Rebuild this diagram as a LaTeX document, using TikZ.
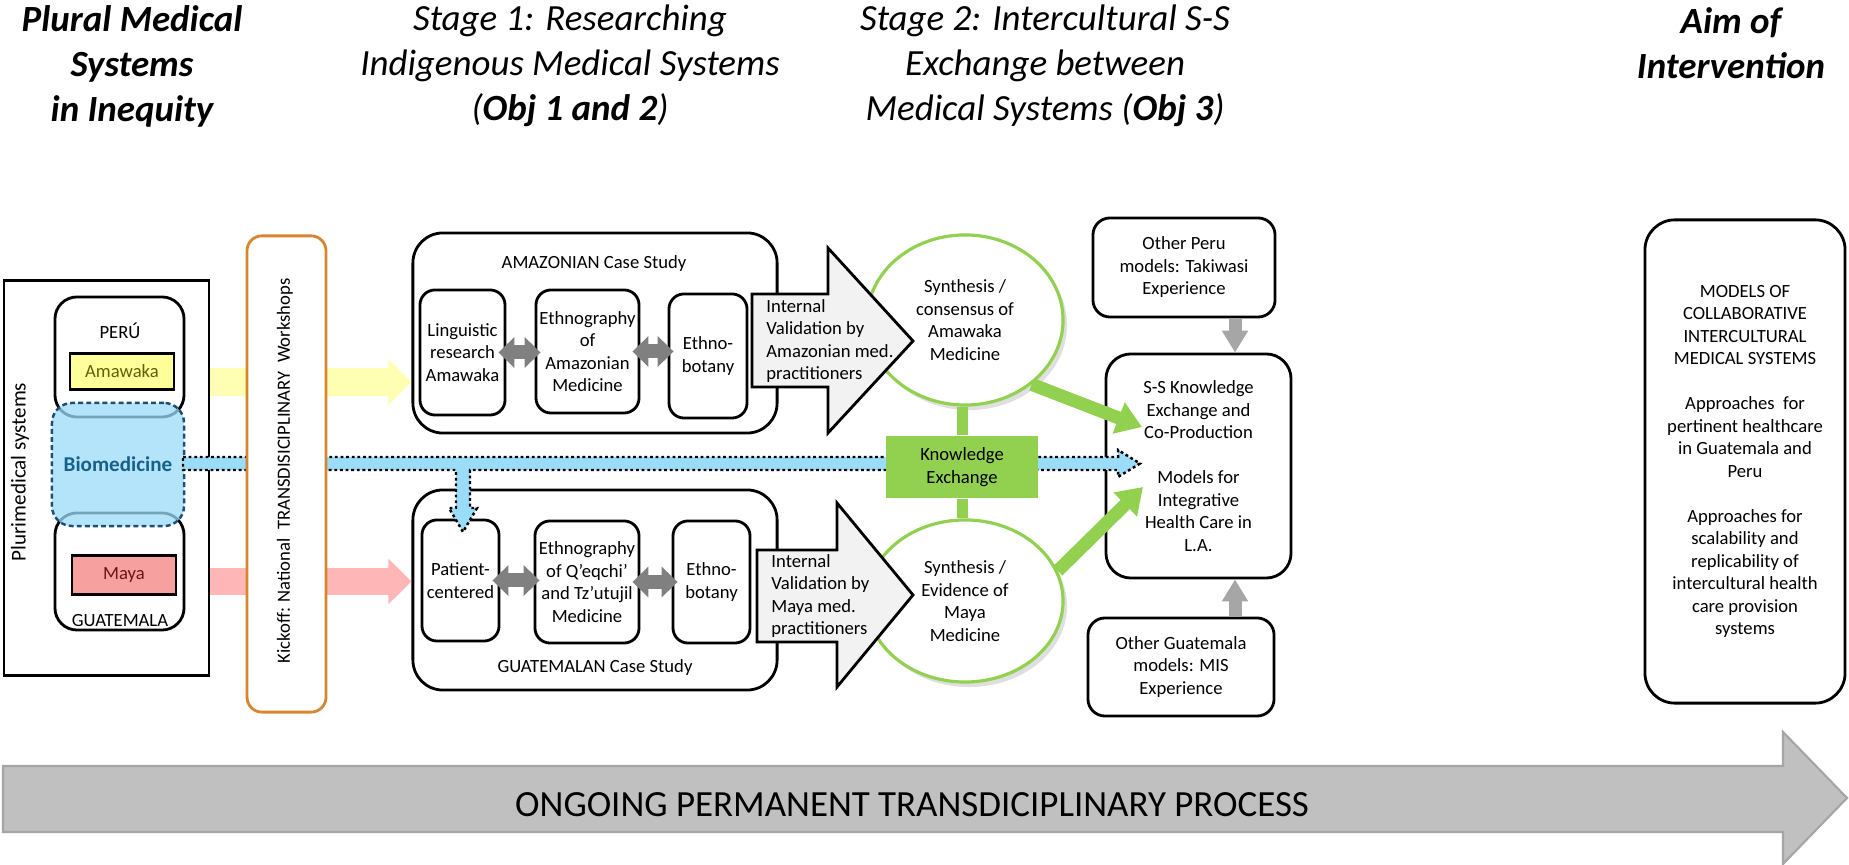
\documentclass[tikz,border=0pt]{standalone}
\usepackage{fontspec}
\setmainfont{Carlito}
\usetikzlibrary{positioning,arrows.meta,shapes.geometric,shadows}

\definecolor{bioblue}{RGB}{155,220,248}
\definecolor{biodark}{RGB}{31,78,121}
\definecolor{biotext}{RGB}{22,96,140}
\definecolor{amayellow}{RGB}{255,255,153}
\definecolor{amatext}{RGB}{96,96,10}
\definecolor{bandyellow}{RGB}{255,255,180}
\definecolor{mayapink}{RGB}{246,160,160}
\definecolor{mayatext}{RGB}{110,20,20}
\definecolor{bandpink}{RGB}{255,182,182}
\definecolor{kickorange}{RGB}{214,134,46}
\definecolor{exgreen}{RGB}{146,208,80}
\definecolor{valgray}{RGB}{242,242,242}
\definecolor{dblgray}{RGB}{128,128,128}
\definecolor{vgray}{RGB}{166,166,166}
\definecolor{procgray}{RGB}{192,192,192}
\definecolor{procedge}{RGB}{165,165,165}

\newcommand{\smalltxt}{\fontsize{5.3}{6.4}\selectfont}
\newcommand{\midtxt}{\fontsize{6}{7.2}\selectfont}
\newcommand{\hdrfont}{\fontsize{10.5}{12.8}\selectfont}

\begin{document}
\begin{tikzpicture}[x=0.01cm,y=-0.01cm,
  outline/.style={draw, line width=0.8pt},
  casebox/.style={outline, rounded corners=0.3cm, minimum width=3.64cm, minimum height=2cm},
  subbox/.style={outline, rounded corners=0.15cm, align=center, font=\smalltxt, inner sep=0pt},
  landbox/.style={outline, rounded corners=0.22cm, minimum width=1.29cm},
  medbox/.style={outline, minimum width=1.04cm, minimum height=0.31cm, font=\smalltxt},
  modelbox/.style={outline, rounded corners=0.17cm, align=center, font=\smalltxt},
  synth/.style={ellipse, draw=exgreen, line width=0.9pt, fill=white, align=center, font=\smalltxt, inner sep=0pt,
    drop shadow={opacity=0.25, shadow xshift=0.04cm, shadow yshift=-0.05cm}},
  hdrtxt/.style={font=\hdrfont\itshape, align=center},
  pairarrow/.style={dblgray, line width=0.14cm, {Triangle[width=0.3cm,length=0.16cm]}-{Triangle[width=0.3cm,length=0.16cm]},
    shorten <=-0.08cm, shorten >=-0.06cm},
  greenarrow/.style={exgreen, line width=0.13cm, -{Triangle[width=0.32cm,length=0.25cm]}},
  grayarrow/.style={vgray, line width=0.13cm, -{Triangle[width=0.25cm,length=0.22cm]}},
  band/.style={line width=0.27cm, -{Triangle[width=0.44cm,length=0.23cm]}},
  valarrow/.style={draw, line width=0.8pt, fill=valgray}]
	\useasboundingbox (0,0) rectangle (1849,865);
	% process arrow
	\draw[fill=procgray, draw=procedge, line width=0.6pt] (3,766) -- (1783,766) -- (1783,732) -- (1847,798) -- (1783,864) -- (1783,832) -- (3,832) -- cycle;
	\node[font=\hdrfont] (proclab) at (912,805) {ONGOING PERMANENT TRANSDICIPLINARY PROCESS};
	% headers
	\node[hdrtxt, font=\hdrfont\bfseries\itshape] (hplural) at (132,66) {Plural Medical\\Systems\\in Inequity};
	\node[hdrtxt] (hstage1) at (570,66) {Stage 1: Researching\\Indigenous Medical Systems\\(\textbf{Obj 1 and 2})};
	\node[hdrtxt] (hstage2) at (1045,66) {Stage 2: Intercultural S-S\\Exchange between\\Medical Systems (\textbf{Obj 3})};
	\node[hdrtxt, font=\hdrfont\bfseries\itshape] (haim) at (1731,43) {Aim of\\Intervention};
	% plurimedical systems
	\node[outline, fill=white, minimum width=2.05cm, minimum height=3.94cm] (plur) at (106.5,478) {};
	\node[rotate=90, font=\midtxt] (plurlab) at (20,472) {Plurimedical systems};
	\node[landbox, minimum height=1.2cm] (perubox) at (119.5,357) {};
	\node[font=\smalltxt] (peru) at (120,331) {PERÚ};
	\node[medbox, fill=amayellow, text=amatext] (ama) at (122,371.5) {Amawaka};
	\node[landbox, minimum height=1.17cm] (guatbox) at (119.5,571.5) {};
	\node[medbox, fill=mayapink, text=mayatext] (maya) at (124,575) {Maya};
	\node[font=\smalltxt] (guat) at (120,621) {GUATEMALA};
	\node[draw=biodark, line width=0.7pt, dash pattern=on 1.4pt off 0.9pt, fill=bioblue, fill opacity=0.75, text opacity=1,
	  rounded corners=0.2cm, minimum width=1.3cm, minimum height=1.23cm, text=biotext, font=\midtxt\bfseries] (bio) at (118,464.5) {Biomedicine};
	% case studies
	\node[casebox] (amazcase) at (595,333) {};
	\node[font=\smalltxt] (amazlab) at (594,264) {AMAZONIAN Case Study};
	\node[subbox, minimum width=0.85cm, minimum height=1.25cm] (ling) at (462.5,352.5) {Linguistic\\research\\Amawaka};
	\node[subbox, minimum width=1.03cm, minimum height=1.23cm] (ethA) at (587.5,351.5) {Ethnography\\of\\Amazonian\\Medicine};
	\node[subbox, minimum width=0.78cm, minimum height=1.24cm] (botA) at (708,356) {Ethno-\\botany};
	\draw[pairarrow] (ling.east) -- (ling.east -| ethA.west);
	\draw[pairarrow] (ethA.east) -- (ethA.east -| botA.west);
	\node[casebox] (guatcase) at (595,590) {};
	\node[font=\smalltxt] (guatlab) at (595,668) {GUATEMALAN Case Study};
	\node[subbox, minimum width=0.77cm, minimum height=1.21cm] (pat) at (460.5,580.5) {Patient-\\centered};
	\node[subbox, minimum width=1.04cm, minimum height=1.22cm] (ethG) at (587,582) {Ethnography\\of Q’eqchi’\\and Tz’utujil\\Medicine};
	\node[subbox, minimum width=0.77cm, minimum height=1.22cm] (botG) at (711.5,582) {Ethno-\\botany};
	\draw[pairarrow] (pat.east) -- (pat.east -| ethG.west);
	\draw[pairarrow] (ethG.east) -- (ethG.east -| botG.west);
	% bands
	\coordinate (yb) at ([yshift=-0.105cm]ama.center);
	\coordinate (pb) at ([yshift=-0.065cm]maya.center);
	\draw[band, bandyellow] (yb -| plur.east) -- (yb -| amazcase.west);
	\draw[band, bandpink] (pb -| plur.east) -- (pb -| guatcase.west);
	% other models
	\node[modelbox, minimum width=1.82cm, minimum height=0.99cm] (otherpe) at (1184,267.5) {Other Peru\\models: Takiwasi\\Experience};
	\node[modelbox, rounded corners=0.25cm, minimum width=1.85cm, minimum height=2.24cm] (ssbox) at (1198.5,466) {S-S Knowledge\\Exchange and\\Co-Production\\[6.4pt]Models for\\Integrative\\Health Care in\\L.A.};
	\node[modelbox, minimum width=1.86cm, minimum height=0.98cm] (otherguat) at (1181,667) {Other Guatemala\\models: MIS\\Experience};
	\node[modelbox, rounded corners=0.3cm, minimum width=2cm, minimum height=4.83cm] (aimbox) at (1745,461.5) {MODELS OF\\COLLABORATIVE\\INTERCULTURAL\\MEDICAL SYSTEMS\\[6.4pt]Approaches~ for\\pertinent healthcare\\in Guatemala and\\Peru\\[6.4pt]Approaches for\\scalability and\\replicability of\\intercultural health\\care provision\\systems};
	% biomedicine band
	\draw[fill=bioblue, line width=0.7pt, dash pattern=on 0.8pt off 0.8pt] (183,457) -- (1118,457) -- (1118,450) -- (1140,463.5) -- (1118,477) -- (1118,470) -- (470,470) -- (470,508) -- (477,508) -- (463,532) -- (449,508) -- (456,508) -- (456,470) -- (183,470) -- cycle;
	% kickoff
	\node[draw=kickorange, line width=0.8pt, fill=white, rounded corners=0.15cm, minimum width=0.79cm, minimum height=4.76cm] (kick) at (286.5,474) {};
	\node[rotate=90, font=\smalltxt] (kicklab) at (285,471) {Kickoff: National~ TRANSDISICIPLINARY~ Workshops};
	% synthesis
	\node[synth, minimum width=1.96cm, minimum height=1.7cm] (synA) at (965,320) {Synthesis /\\consensus of\\Amawaka\\Medicine};
	\node[synth, minimum width=1.96cm, minimum height=1.62cm] (synG) at (965,601) {Synthesis /\\Evidence of\\Maya\\Medicine};
	\node[fill=exgreen, minimum width=1.51cm, minimum height=0.62cm, align=center, font=\smalltxt] (kex) at (962,467) {Knowledge\\Exchange};
	\draw[exgreen, line width=0.11cm] (kex.north) -- (kex.north |- synA.south);
	\draw[exgreen, line width=0.11cm] (kex.south) -- (kex.south |- synG.north);
	% validation
	\draw[valarrow] (752,294) -- (828,294) -- (828,248) -- (913,341) -- (828,433) -- (828,387) -- (752,387) -- cycle;
	\node[font=\smalltxt, align=left, anchor=west] (valA) at (754,341) {Internal\\Validation by\\Amazonian med.\\practitioners};
	\draw[valarrow] (757,550) -- (837,550) -- (837,503) -- (913,595) -- (837,687) -- (837,642) -- (757,642) -- cycle;
	\node[font=\smalltxt, align=left, anchor=west] (valG) at (759,596) {Internal\\Validation by\\Maya med.\\practitioners};
	% into the S-S box
	\coordinate (ssinA) at (1142,427);
	\coordinate (ssinG) at (1143,487);
	\draw[greenarrow] (synA.-44) -- (ssinA);
	\draw[greenarrow] (synG.18) -- (ssinG);
	\coordinate (vx) at (1235,0);
	\draw[grayarrow] (vx |- otherpe.south) -- (vx |- ssbox.north);
	\draw[grayarrow] (vx |- otherguat.north) -- (vx |- ssbox.south);
\end{tikzpicture}
\end{document}
